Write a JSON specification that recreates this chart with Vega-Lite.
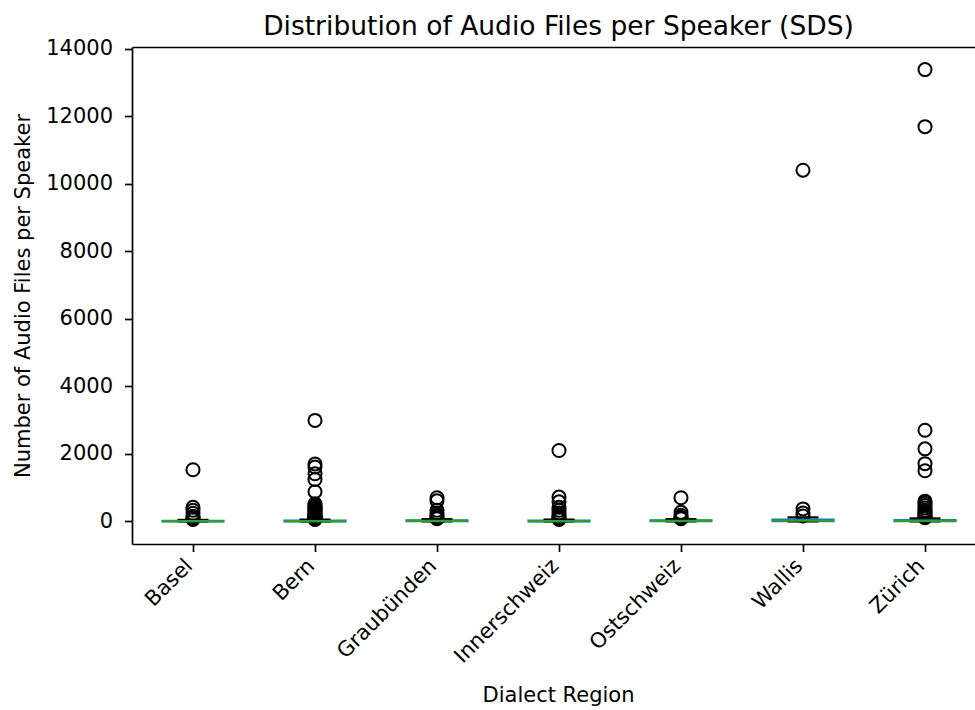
{
  "$schema": "https://vega.github.io/schema/vega-lite/v6.json",
  "width": 843,
  "height": 497,
  "autosize": {"type": "none"},
  "padding": {"left": 132, "top": 47, "right": 0, "bottom": 166},
  "config": {
    "font": "DejaVu Sans",
    "view": {"stroke": null},
    "axis": {
      "domainColor": "black", "domainWidth": 1.7,
      "tickColor": "black", "tickWidth": 1.7, "tickSize": 7.5,
      "labelColor": "black", "titleColor": "black",
      "labelFont": "DejaVu Sans", "titleFont": "DejaVu Sans",
      "labelFontSize": 21, "titleFontSize": 21, "titleFontWeight": "normal",
      "grid": false
    }
  },
  "title": {
    "text": "Distribution of Audio Files per Speaker (SDS)",
    "fontSize": 26.5, "fontWeight": "normal", "font": "DejaVu Sans", "color": "black",
    "anchor": "middle", "frame": "group", "offset": 13, "baseline": "alphabetic", "dx": 5, "dy": 37
  },
  "datasets": {
    "stats": [
      {"region": "Basel", "whislo": 0, "q1": 2, "median": 8, "q3": 20, "whishi": 45},
      {"region": "Bern", "whislo": 0, "q1": 3, "median": 10, "q3": 25, "whishi": 55},
      {"region": "Graubünden", "whislo": 0, "q1": 5, "median": 15, "q3": 35, "whishi": 70},
      {"region": "Innerschweiz", "whislo": 0, "q1": 3, "median": 10, "q3": 25, "whishi": 55},
      {"region": "Ostschweiz", "whislo": 0, "q1": 5, "median": 15, "q3": 35, "whishi": 70},
      {"region": "Wallis", "whislo": 0, "q1": 5, "median": 20, "q3": 55, "whishi": 120},
      {"region": "Zürich", "whislo": 0, "q1": 4, "median": 15, "q3": 40, "whishi": 90}
    ],
    "outliers": [
      {"region": "Basel", "value": 1530}, {"region": "Basel", "value": 420}, {"region": "Basel", "value": 330},
      {"region": "Basel", "value": 240}, {"region": "Basel", "value": 150}, {"region": "Basel", "value": 110},
      {"region": "Basel", "value": 80}, {"region": "Basel", "value": 60},
      {"region": "Bern", "value": 2990}, {"region": "Bern", "value": 1700}, {"region": "Bern", "value": 1610},
      {"region": "Bern", "value": 1410}, {"region": "Bern", "value": 1240}, {"region": "Bern", "value": 880},
      {"region": "Bern", "value": 520}, {"region": "Bern", "value": 470}, {"region": "Bern", "value": 430},
      {"region": "Bern", "value": 390}, {"region": "Bern", "value": 350}, {"region": "Bern", "value": 310},
      {"region": "Bern", "value": 280}, {"region": "Bern", "value": 250}, {"region": "Bern", "value": 220},
      {"region": "Bern", "value": 190}, {"region": "Bern", "value": 170}, {"region": "Bern", "value": 150},
      {"region": "Bern", "value": 130}, {"region": "Bern", "value": 115}, {"region": "Bern", "value": 100},
      {"region": "Bern", "value": 90}, {"region": "Bern", "value": 80}, {"region": "Bern", "value": 70},
      {"region": "Bern", "value": 60},
      {"region": "Graubünden", "value": 700}, {"region": "Graubünden", "value": 610}, {"region": "Graubünden", "value": 330},
      {"region": "Graubünden", "value": 250}, {"region": "Graubünden", "value": 180}, {"region": "Graubünden", "value": 130},
      {"region": "Graubünden", "value": 100}, {"region": "Graubünden", "value": 80},
      {"region": "Innerschweiz", "value": 2100}, {"region": "Innerschweiz", "value": 720}, {"region": "Innerschweiz", "value": 580},
      {"region": "Innerschweiz", "value": 420}, {"region": "Innerschweiz", "value": 330}, {"region": "Innerschweiz", "value": 250},
      {"region": "Innerschweiz", "value": 180}, {"region": "Innerschweiz", "value": 130}, {"region": "Innerschweiz", "value": 100},
      {"region": "Innerschweiz", "value": 80}, {"region": "Innerschweiz", "value": 60},
      {"region": "Ostschweiz", "value": 700}, {"region": "Ostschweiz", "value": 270}, {"region": "Ostschweiz", "value": 180},
      {"region": "Ostschweiz", "value": 130}, {"region": "Ostschweiz", "value": 100}, {"region": "Ostschweiz", "value": 80},
      {"region": "Wallis", "value": 10400}, {"region": "Wallis", "value": 370}, {"region": "Wallis", "value": 250},
      {"region": "Wallis", "value": 160},
      {"region": "Zürich", "value": 13380}, {"region": "Zürich", "value": 11690}, {"region": "Zürich", "value": 2700},
      {"region": "Zürich", "value": 2150}, {"region": "Zürich", "value": 1710}, {"region": "Zürich", "value": 1500},
      {"region": "Zürich", "value": 600}, {"region": "Zürich", "value": 540}, {"region": "Zürich", "value": 470},
      {"region": "Zürich", "value": 400}, {"region": "Zürich", "value": 330}, {"region": "Zürich", "value": 280},
      {"region": "Zürich", "value": 230}, {"region": "Zürich", "value": 190}, {"region": "Zürich", "value": 160},
      {"region": "Zürich", "value": 130}, {"region": "Zürich", "value": 110}
    ]
  },
  "layer": [
    {
      "data": {"name": "outliers"},
      "mark": {"type": "point", "shape": "circle", "filled": false, "stroke": "black", "strokeWidth": 2, "size": 170, "opacity": 1},
      "encoding": {
        "x": {
          "field": "region", "type": "nominal",
          "scale": {"type": "point", "range": [0, 854], "padding": 0.5,
            "domain": ["Basel", "Bern", "Graubünden", "Innerschweiz", "Ostschweiz", "Wallis", "Zürich"]},
          "axis": {
            "orient": "bottom", "labelAngle": -45, "labelAlign": "right", "labelBaseline": "middle",
            "labelPadding": 11, "labelOffset": -4,
            "title": "Dialect Region", "titleX": 426, "titleY": 157, "titleBaseline": "alphabetic", "titleAlign": "center"
          }
        },
        "y": {
          "field": "value", "type": "quantitative",
          "scale": {"domain": [-669, 14049], "nice": false, "zero": false},
          "axis": {
            "values": [0, 2000, 4000, 6000, 8000, 10000, 12000, 14000], "format": "d",
            "labelPadding": 12, "labelFlush": false,
            "title": "Number of Audio Files per Speaker", "titleX": -103, "titleY": 248.5,
            "titleAngle": -90, "titleBaseline": "alphabetic", "titleAlign": "center"
          }
        }
      }
    },
    {
      "data": {"name": "stats"},
      "mark": {"type": "rule", "color": "#1f77b4", "strokeWidth": 2.15},
      "encoding": {
        "x": {"field": "region", "type": "nominal",
          "axis": {"orient": "top", "labels": false, "ticks": false, "title": null, "domain": true, "minExtent": 0, "maxExtent": 0, "offset": 0}},
        "y": {"field": "whislo", "type": "quantitative", "axis": null},
        "y2": {"field": "whishi"}
      }
    },
    {
      "data": {"name": "stats"},
      "mark": {"type": "bar", "width": 61, "fillOpacity": 0, "fill": "white", "stroke": "#1f77b4", "strokeWidth": 2.15},
      "encoding": {
        "x": {"field": "region", "type": "nominal", "axis": null},
        "y": {"field": "q1", "type": "quantitative", "axis": null},
        "y2": {"field": "q3"}
      }
    },
    {
      "data": {"name": "stats"},
      "mark": {"type": "tick", "color": "black", "size": 31, "thickness": 2.15, "opacity": 1},
      "encoding": {
        "x": {"field": "region", "type": "nominal", "axis": null},
        "y": {"field": "whishi", "type": "quantitative", "axis": null}
      }
    },
    {
      "data": {"name": "stats"},
      "mark": {"type": "tick", "color": "black", "size": 31, "thickness": 2.15, "opacity": 1},
      "encoding": {
        "x": {"field": "region", "type": "nominal", "axis": null},
        "y": {"field": "whislo", "type": "quantitative", "axis": null}
      }
    },
    {
      "data": {"name": "stats"},
      "mark": {"type": "tick", "color": "#2ca02c", "size": 61, "thickness": 2.15, "opacity": 1},
      "encoding": {
        "x": {"field": "region", "type": "nominal", "axis": null},
        "y": {"field": "median", "type": "quantitative", "axis": null}
      }
    }
  ],
  "resolve": {"axis": {"x": "independent", "y": "independent"}}
}
